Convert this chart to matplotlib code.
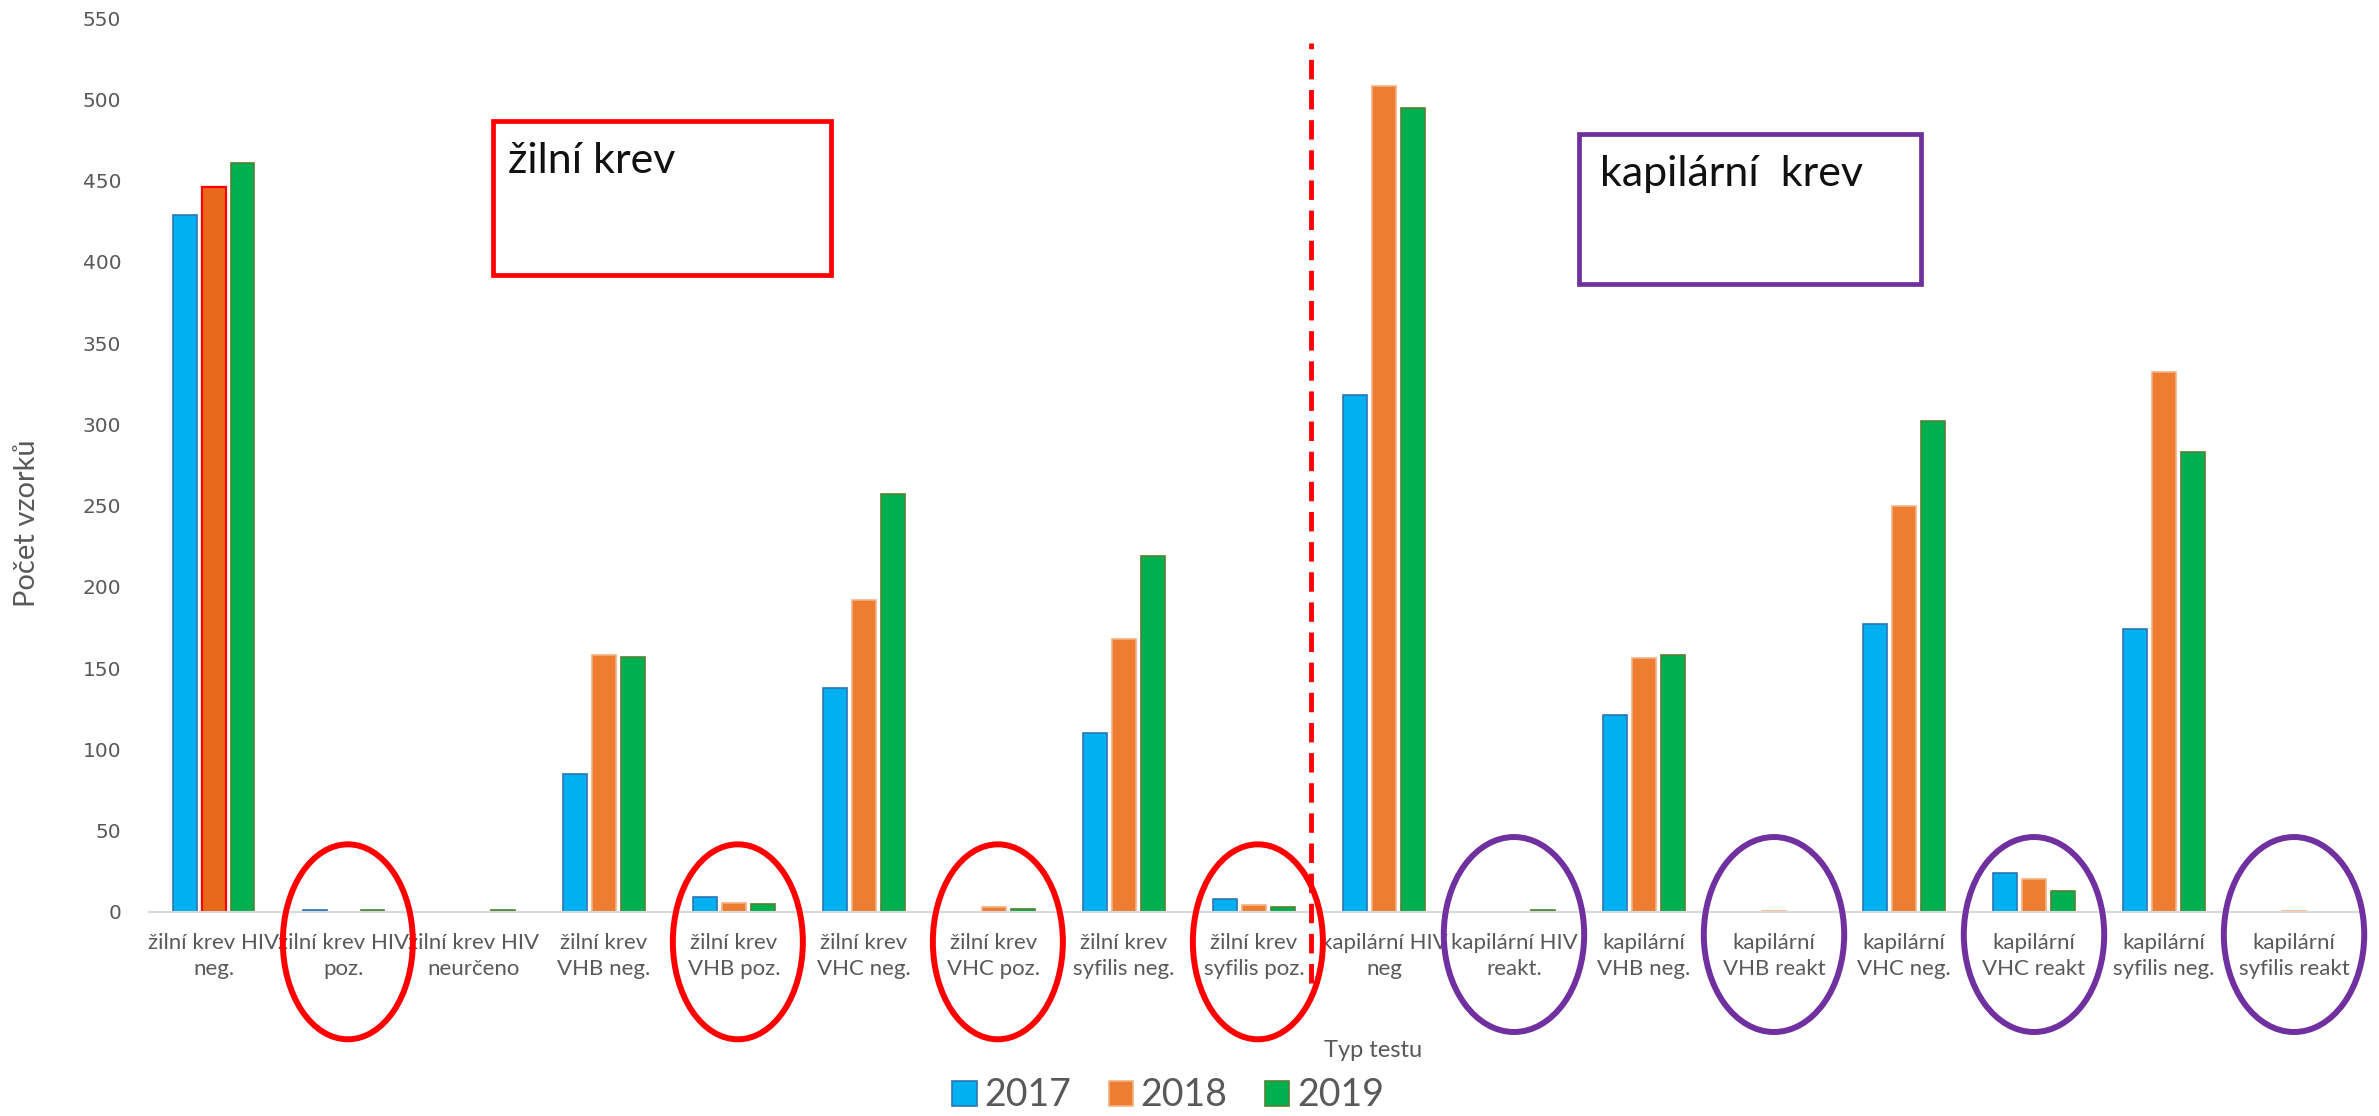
import matplotlib.pyplot as plt
import numpy as np
from matplotlib.patches import Ellipse, Patch, Rectangle

plt.rcParams["font.family"] = ["Lato", "DejaVu Sans"]

categories = [
    "žilní krev HIV\nneg.", "žilní krev HIV\npoz.", "žilní krev HIV\nneurčeno",
    "žilní krev\nVHB neg.", "žilní krev\nVHB poz.", "žilní krev\nVHC neg.",
    "žilní krev\nVHC poz.", "žilní krev\nsyfilis neg.", "žilní krev\nsyfilis poz.",
    "kapilární HIV\nneg", "kapilární HIV\nreakt.", "kapilární\nVHB neg.",
    "kapilární\nVHB reakt", "kapilární\nVHC neg.", "kapilární\nVHC reakt",
    "kapilární\nsyfilis neg.", "kapilární\nsyfilis reakt",
]
years = ["2017", "2018", "2019"]
v2017 = [429, 1, 0, 85, 9, 138, 0, 110, 8, 318, 0, 121, 0, 177, 24, 174, 0]
v2018 = [446, 0, 0, 158, 5.5, 192, 3, 168, 4, 508, 0, 156, 0.7, 250, 20, 332, 0.7]
v2019 = [461, 1, 1, 157, 5, 257, 2, 219, 3, 495, 1, 158, 0, 302, 13, 283, 0]

yticks = list(range(0, 551, 50))
red_marked = [1, 4, 6, 8]
purple_marked = [10, 12, 14, 16]

fills = ["#00B0F0", "#ED7D31", "#00B050"]
edges = ["#2E75B6", "#F4B183", "#548235"]
grey = "#595959"
red = "#FF0000"
purple = "#7030A0"

fig = plt.figure(figsize=(23.79, 11.16), dpi=100)
ax = fig.add_axes([0.0626, 0.183, 0.929, 0.8007])

x = np.arange(len(categories))
width = 0.18
step = 0.222
for i, (vals, fc, ec) in enumerate(zip([v2017, v2018, v2019], fills, edges)):
    bars = ax.bar(x + (i - 1) * step, vals, width, color=fc, edgecolor=ec,
                  linewidth=1.2, label=years[i])
    if i == 1:
        # first orange bar is highlighted in the source
        bars[0].set_facecolor("#E8691C")
        bars[0].set_edgecolor(red)
        bars[0].set_linewidth(1.6)

ax.set_xlim(-0.5, len(categories) - 0.5)
ax.set_ylim(0, 550)
ax.set_yticks(yticks)
ax.set_yticklabels([str(t) for t in yticks], family="DejaVu Sans",
                   fontsize=14.5, color=grey)
ax.set_xticks(x)
ax.set_xticklabels(categories, fontsize=16, color=grey, linespacing=1.4)
ax.tick_params(axis="both", length=0)
ax.tick_params(axis="y", pad=20)
ax.tick_params(axis="x", pad=15)
for s in ["top", "right", "left"]:
    ax.spines[s].set_visible(False)
ax.spines["bottom"].set_color("#D9D9D9")
ax.spines["bottom"].set_linewidth(1.5)

# divider between venous and capillary blood
ax.plot([8.44, 8.44], [-44, 535], color=red, linestyle=(0, (4, 2.2)),
        linewidth=3.5, clip_on=False, zorder=5)

# group boxes
ax.add_patch(Rectangle((2.15, 392), 2.6, 94.5, fill=False, edgecolor=red,
                       linewidth=3.4, clip_on=False))
ax.text(2.26, 474, "žilní krev", fontsize=31, color="#111111", va="top")
ax.add_patch(Rectangle((10.5, 386.5), 2.63, 92.5, fill=False, edgecolor=purple,
                       linewidth=3.4, clip_on=False))
ax.text(10.66, 466, "kapilární  krev", fontsize=31, color="#111111", va="top")

# ellipses around positive / reactive results
for idx in red_marked:
    ax.add_patch(Ellipse((idx + 0.03, -18.5), 1.0, 120, fill=False,
                         edgecolor=red, linewidth=4.3, clip_on=False, zorder=6))
for idx in purple_marked:
    ax.add_patch(Ellipse((idx, -14), 1.08, 120, fill=False,
                         edgecolor=purple, linewidth=4.3, clip_on=False, zorder=6))

fig.text(0.0115, 0.531, "Počet vzorků", rotation=90, fontsize=21, color=grey,
         ha="center", va="center")
fig.text(0.577, 0.059, "Typ testu", fontsize=17, color=grey,
         ha="center", va="center")

handles = [Patch(facecolor=fc, edgecolor=ec, linewidth=1.2) for fc, ec in zip(fills, edges)]
fig.legend(handles, years, loc="center", bbox_to_anchor=(0.491, 0.0185),
           ncol=3, frameon=False, fontsize=27, labelcolor=grey,
           handlelength=0.65, handleheight=0.65, handletextpad=0.2,
           columnspacing=1.0)

fig.savefig("out.png", dpi=100)
